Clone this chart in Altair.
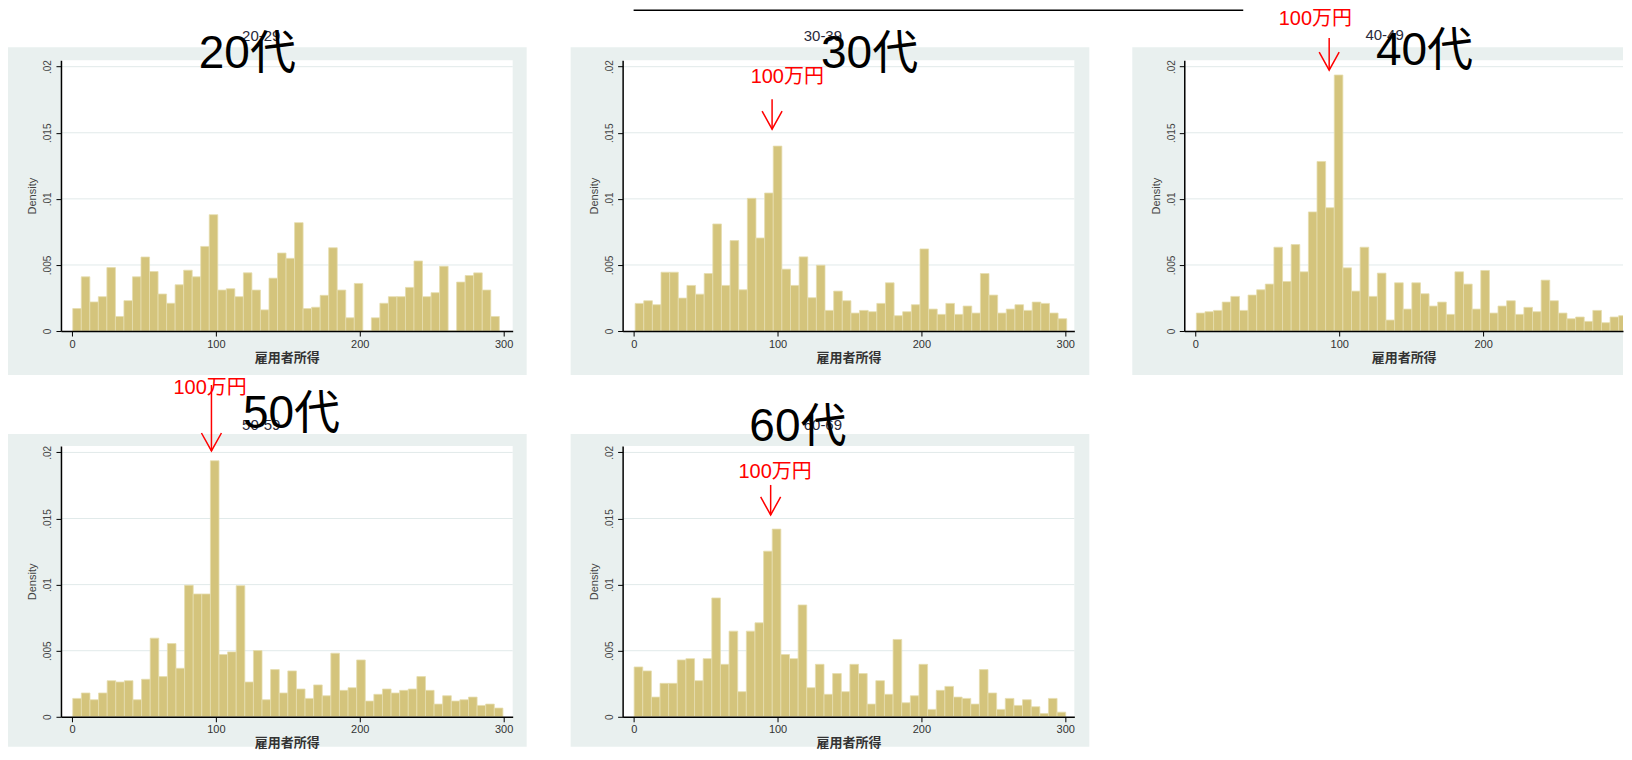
import altair as alt
import pandas as pd

# ---------------- data ----------------
panel_titles = ["20代", "30代", "40代", "50代", "60代"]
panel_subtitles = ["20-29", "30-39", "40-49", "50-59", "60-69"]

density_20s = [0.0017, 0.0041, 0.0022, 0.0026, 0.0048, 0.0011, 0.0023, 0.0041, 0.0056, 0.0045,
               0.0028, 0.0021, 0.0035, 0.0046, 0.0041, 0.0064, 0.0088, 0.0031, 0.0032, 0.0026,
               0.0044, 0.0031, 0.0016, 0.0040, 0.0059, 0.0055, 0.0082, 0.0017, 0.0018, 0.0027,
               0.0063, 0.0031, 0.0010, 0.0036, 0.0000, 0.0010, 0.0021, 0.0026, 0.0026, 0.0033,
               0.0053, 0.0026, 0.0029, 0.0049, 0.0000, 0.0037, 0.0042, 0.0044, 0.0031, 0.0011]
density_30s = [0.00209, 0.00229, 0.00199, 0.00445, 0.00445, 0.00249, 0.00345, 0.00279, 0.00435, 0.00810,
               0.00345, 0.00684, 0.00312, 0.01004, 0.00704, 0.01044, 0.01399, 0.00468, 0.00345, 0.00561,
               0.00252, 0.00498, 0.00156, 0.00302, 0.00229, 0.00136, 0.00156, 0.00146, 0.00209, 0.00365,
               0.00116, 0.00146, 0.00199, 0.00621, 0.00166, 0.00126, 0.00209, 0.00126, 0.00189, 0.00136,
               0.00435, 0.00272, 0.00136, 0.00166, 0.00199, 0.00156, 0.00219, 0.00209, 0.00136, 0.00093]
density_40s = [0.00136, 0.00146, 0.00156, 0.00219, 0.00262, 0.00156, 0.00272, 0.00312, 0.00355, 0.00634,
               0.00375, 0.00654, 0.00448, 0.00901, 0.01283, 0.00933, 0.01937, 0.00478, 0.00302, 0.00634,
               0.00262, 0.00438, 0.00083, 0.00365, 0.00166, 0.00365, 0.00282, 0.00189, 0.00219, 0.00126,
               0.00448, 0.00355, 0.00166, 0.00458, 0.00136, 0.00189, 0.00229, 0.00126, 0.00179, 0.00146,
               0.00385, 0.00229, 0.00136, 0.00093, 0.00106, 0.00073, 0.00156, 0.00063, 0.00106, 0.00116]
density_50s = [0.00139, 0.00180, 0.00129, 0.00180, 0.00273, 0.00263, 0.00273, 0.00129, 0.00284, 0.00595,
               0.00304, 0.00554, 0.00367, 0.00995, 0.00929, 0.00929, 0.01937, 0.00471, 0.00491, 0.00992,
               0.00263, 0.00501, 0.00129, 0.00357, 0.00180, 0.00347, 0.00210, 0.00139, 0.00241, 0.00159,
               0.00481, 0.00200, 0.00220, 0.00430, 0.00119, 0.00170, 0.00210, 0.00180, 0.00200, 0.00210,
               0.00304, 0.00200, 0.00096, 0.00159, 0.00119, 0.00129, 0.00149, 0.00086, 0.00096, 0.00066]
density_60s = [0.00377, 0.00347, 0.00149, 0.00253, 0.00253, 0.00430, 0.00440, 0.00273, 0.00440, 0.00899,
               0.00397, 0.00648, 0.00190, 0.00648, 0.00711, 0.01253, 0.01420, 0.00471, 0.00440, 0.00846,
               0.00220, 0.00397, 0.00170, 0.00327, 0.00190, 0.00397, 0.00327, 0.00096, 0.00273, 0.00170,
               0.00585, 0.00106, 0.00159, 0.00397, 0.00056, 0.00200, 0.00230, 0.00149, 0.00139, 0.00096,
               0.00357, 0.00180, 0.00056, 0.00139, 0.00086, 0.00129, 0.00076, 0.00025, 0.00139, 0.00035]
densities = [density_20s, density_30s, density_40s, density_50s, density_60s]

bin_start = [0.5, 1.0, 0.7, 0.5, 0.3]
bin_width = [5.93, 6.0, 5.99, 5.98, 6.0]

x_ticks = [0, 100, 200, 300]
x_ticks_clipped = [0, 100, 200]
y_ticks = [0, 0.005, 0.01, 0.015, 0.02]
grid_values = [0.005, 0.01, 0.015, 0.02]

# annotation anchors (data coordinates of each panel)
title_x = [88.1, 130.2, 125.5, 118.8, 80.4]
title_y = [0.01989, 0.01989, 0.02011, 0.02185, 0.02087]
subtitle_x = [131.5, 131.5, 131.5, 131.5, 131.5]
subtitle_y = [0.02193, 0.02193, 0.02200, 0.02170, 0.02170]
note_text = "100万円"
note_x = [None, 81.3, 57.9, 70.5, 72.8]
note_y = [None, 0.01875, 0.02314, 0.02442, 0.01807]
arrow_x = [None, 96.2, 93.0, 96.9, 95.2]
arrow_tip = [None, 0.01527, 0.01974, 0.02011, 0.01527]
arrow_top = [None, 0.01754, 0.02216, 0.02510, 0.01754]

# ---------------- styles ----------------
GRAY = "#E9F0EF"
BAR = "#D4C47C"
EDGE = "#E6DDAE"
GRIDC = "#E1EAEA"
LAT = "Liberation Sans"
CJK = "Noto Sans CJK JP"
BIGFONT = "'Liberation Sans', 'Noto Sans CJK JP', sans-serif"
W = 452
W3 = 439
H = 271
XDOM = [-7.7, 306.3]
XDOM3 = [-7.7, 297.2]
YDOM = [0, 0.02049]
ARROW_PATH = "M-1,-1.8L0,0L1,-1.8"


def make_panel(i, width, xdom, xvals, gray_box, top_line=False):
    xs = alt.Scale(domain=xdom, nice=False, zero=False)
    ys = alt.Scale(domain=YDOM, nice=False, zero=False)
    xaxis = alt.Axis(values=xvals, format="d", title="雇用者所得", grid=False,
                     domainColor="black", domainWidth=1.5, tickColor="black",
                     tickSize=5, tickWidth=1, labelFont=LAT, labelFontSize=11,
                     labelColor="#333333", labelPadding=2, labelFlush=False,
                     titleFont=CJK, titleFontSize=13, titleFontWeight="bold",
                     titleColor="#333333", titlePadding=2, zindex=1)
    yaxis = alt.Axis(values=y_ticks,
                     labelExpr="datum.value == 0 ? '0' : replace(format(datum.value, '.3~f'), '0.', '.')",
                     labelAngle=270, title="Density", grid=False,
                     domainColor="black", domainWidth=1.5, tickColor="black",
                     tickSize=5, tickWidth=1, labelFont=LAT, labelFontSize=10,
                     labelColor="#444444", labelPadding=3, titleFont=LAT,
                     titleFontSize=11, titleFontWeight="normal", titleColor="#444444",
                     titlePadding=5, zindex=1)

    def X(field):
        return alt.X(field, scale=xs, axis=xaxis)

    def Y(field):
        return alt.Y(field, scale=ys, axis=yaxis)

    one = pd.DataFrame({"k": [0]})
    gl, gr, gt, gb = gray_box
    layers = []
    layers.append(alt.Chart(one).mark_rect(color=GRAY, clip=False).encode(
        x=alt.value(gl), x2=alt.value(width + gr), y=alt.value(gt), y2=alt.value(H + gb)))
    layers.append(alt.Chart(one).mark_rect(color="white").encode(
        x=alt.value(0), x2=alt.value(width), y=alt.value(0), y2=alt.value(H)))
    layers.append(alt.Chart(pd.DataFrame({"g": grid_values})).mark_rule(
        color=GRIDC, strokeWidth=1).encode(y=Y("g:Q")))

    dens = densities[i]
    df = pd.DataFrame({
        "x0": [bin_start[i] + k * bin_width[i] for k in range(len(dens))],
        "x1": [bin_start[i] + (k + 1) * bin_width[i] for k in range(len(dens))],
        "density": dens,
        "zero": [0.0] * len(dens),
    })
    layers.append(alt.Chart(df).mark_rect(fill=BAR, stroke=EDGE, strokeWidth=0.8, clip=True).encode(
        x=X("x0:Q"), x2="x1:Q", y=Y("density:Q"), y2="zero:Q"))

    sub_df = pd.DataFrame({"x": [subtitle_x[i]], "y": [subtitle_y[i]], "t": [panel_subtitles[i]]})
    layers.append(alt.Chart(sub_df).mark_text(
        fontSize=15, color="#2a2a3a", align="center", baseline="alphabetic", font=LAT).encode(
        x=X("x:Q"), y=Y("y:Q"), text="t:N"))

    if note_x[i] is not None:
        note_df = pd.DataFrame({"x": [note_x[i]], "y": [note_y[i]], "t": [note_text]})
        layers.append(alt.Chart(note_df).mark_text(
            fontSize=20, color="#FF0000", align="left", baseline="alphabetic", font=BIGFONT).encode(
            x=X("x:Q"), y=Y("y:Q"), text="t:N"))
        arr_df = pd.DataFrame({"x": [arrow_x[i]], "top": [arrow_top[i]], "tip": [arrow_tip[i]]})
        layers.append(alt.Chart(arr_df).mark_rule(color="#FF0000", strokeWidth=1.5).encode(
            x=X("x:Q"), y=Y("top:Q"), y2="tip:Q"))
        layers.append(alt.Chart(arr_df).mark_point(
            shape=ARROW_PATH, size=400, filled=False, stroke="#FF0000", strokeWidth=1.5, opacity=1).encode(
            x=X("x:Q"), y=Y("tip:Q")))

    title_df = pd.DataFrame({"x": [title_x[i]], "y": [title_y[i]], "t": [panel_titles[i]]})
    layers.append(alt.Chart(title_df).mark_text(
        fontSize=46, color="black", align="left", baseline="alphabetic", font=BIGFONT).encode(
        x=X("x:Q"), y=Y("y:Q"), text="t:N"))

    if top_line:
        layers.append(alt.Chart(one).mark_rule(color="black", strokeWidth=1.5).encode(
            x=alt.value(11), x2=alt.value(621), y=alt.value(-50)))

    return alt.layer(*layers).properties(width=width, height=H)


p1 = make_panel(0, W, XDOM, x_ticks, (-53, 14, -13, 44))
p2 = make_panel(1, W, XDOM, x_ticks, (-52, 15, -13, 44), top_line=True)
p3 = make_panel(2, W3, XDOM3, x_ticks_clipped, (-52, 0, -13, 44))
p4 = make_panel(3, W, XDOM, x_ticks, (-53, 14, -12, 30))
p5 = make_panel(4, W, XDOM, x_ticks, (-52, 15, -12, 30))

chart = alt.concat(p1, p2, p3, p4, p5, columns=3,
                   spacing={"row": 115, "column": 110}, bounds="flush").properties(
    padding=0, background="white").configure_view(stroke=None)

chart.save("out.html", embed_options={"renderer": "svg", "actions": False})
